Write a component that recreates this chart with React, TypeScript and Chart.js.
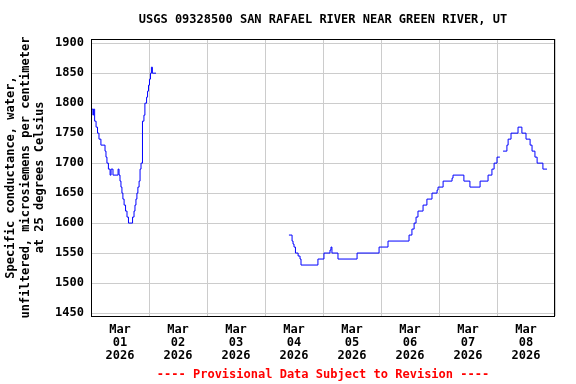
import React, { useEffect, useRef } from "react";
import { Chart, registerables } from "chart.js";

Chart.register(...registerables);

// Hours relative to 2026-03-01 00:00 (local)
const times: number[] = [
  -11.8, -11.2, -11.0, -10.5, -9.9, -9.3, -8.7, -7.9, -6.2, -5.8, -5.4, -4.8, -4.1, -3.7, -2.9, -0.8, -0.4,
  0.0, 0.4, 0.8, 1.2, 1.7, 2.3, 2.9, 3.5, 5.2, 5.8, 6.2, 6.6, 7.0, 7.4, 7.9, 8.3, 8.7, 9.3, 9.9, 10.3, 11.0,
  11.4, 11.8, 12.2, 12.6, 13.0, 13.4, 14.9,
  40.0,
  69.9, 71.2, 71.6, 72.0, 72.6, 73.7, 74.5, 74.9, 81.9, 84.4, 86.9, 87.3, 87.7, 90.2, 98.1, 107.2, 110.9,
  119.6, 120.8, 121.7, 122.5, 123.3, 125.4, 127.0, 129.1, 131.2, 131.6, 133.7, 137.4, 137.8, 142.3, 144.8,
  149.0, 152.3, 153.9, 154.8, 156.0, 157.2,
  157.8,
  158.5, 160.1, 160.6, 161.8, 164.7, 166.3, 168.0, 169.7, 170.5, 171.7, 172.6, 175.0, 176.7,
];

const conductance: (number | null)[] = [
  1790, 1780, 1790, 1770, 1760, 1750, 1740, 1730, 1720, 1710, 1700, 1690, 1680, 1690, 1680, 1690, 1680,
  1670, 1660, 1650, 1640, 1630, 1620, 1610, 1600, 1610, 1620, 1630, 1640, 1650, 1660, 1670, 1690, 1700,
  1770, 1780, 1800, 1810, 1820, 1830, 1840, 1850, 1860, 1850, 1850,
  null,
  1580, 1570, 1565, 1560, 1550, 1545, 1540, 1530, 1540, 1550, 1555, 1560, 1550, 1540, 1550, 1560, 1570,
  1580, 1590, 1600, 1610, 1620, 1630, 1640, 1650, 1655, 1660, 1670, 1675, 1680, 1670, 1660,
  1670, 1680, 1690, 1700, 1710, 1710,
  null,
  1720, 1730, 1740, 1750, 1760, 1750, 1740, 1730, 1720, 1710, 1700, 1690, 1690,
];

const tickHours: number[] = [0, 24, 48, 72, 96, 120, 144, 168];
const tickLabels: string[][] = [
  ["Mar", "01", "2026"],
  ["Mar", "02", "2026"],
  ["Mar", "03", "2026"],
  ["Mar", "04", "2026"],
  ["Mar", "05", "2026"],
  ["Mar", "06", "2026"],
  ["Mar", "07", "2026"],
  ["Mar", "08", "2026"],
];
const yTicks: number[] = [1450, 1500, 1550, 1600, 1650, 1700, 1750, 1800, 1850, 1900];

const titleText = "USGS 09328500 SAN RAFAEL RIVER NEAR GREEN RIVER, UT";
const footerText = "---- Provisional Data Subject to Revision ----";
const yTitle = [
  "Specific conductance, water,",
  "unfiltered, microsiemens per centimeter",
  "at 25 degrees Celsius",
];

const FONT = "'DejaVu Sans Mono', monospace";

const framePlugin = {
  id: "frameAndTexts",
  afterDraw(chart: any) {
    const { ctx, chartArea } = chart;
    const { left, right, top, bottom } = chartArea;
    ctx.save();
    ctx.strokeStyle = "#000000";
    ctx.lineWidth = 1;
    ctx.strokeRect(Math.round(left) + 0.5, Math.round(top) + 0.5, Math.round(right - left) - 1, Math.round(bottom - top));
    const cx = (left + right) / 2;
    ctx.font = `bold 12px ${FONT}`;
    ctx.textAlign = "center";
    ctx.textBaseline = "middle";
    ctx.fillStyle = "#000000";
    ctx.fillText(titleText, cx, 20);
    ctx.fillStyle = "#ff0000";
    ctx.fillText(footerText, cx, 375);
    ctx.restore();
  },
};

export default function App() {
  const ref = useRef<HTMLCanvasElement | null>(null);
  useEffect(() => {
    document.body.style.margin = "0";
    const canvas = ref.current;
    if (!canvas) return;
    const chart = new Chart(canvas, {
      type: "line",
      data: {
        datasets: [
          {
            data: times.map((t, i) => ({ x: t, y: conductance[i] })),
            borderColor: "#0000ff",
            borderWidth: 1,
            pointRadius: 0,
            stepped: true,
            spanGaps: false,
            fill: false,
          },
        ],
      },
      options: {
        animation: false,
        responsive: false,
        devicePixelRatio: 1,
        layout: { padding: { top: 39, right: 21, bottom: 0, left: 0 } },
        plugins: {
          legend: { display: false },
          tooltip: { enabled: false },
          title: { display: false },
        },
        scales: {
          x: {
            type: "linear",
            min: -12,
            max: 180,
            afterFit: (scale: any) => {
              scale.height = 68;
            },
            afterBuildTicks: (axis: any) => {
              const vals: number[] = [];
              for (let v = -12; v <= 180; v += 12) vals.push(v);
              axis.ticks = vals.map((v) => ({ value: v }));
            },
            border: { display: false },
            grid: {
              drawTicks: false,
              tickLength: 0,
              lineWidth: 1,
              color: (ctx: any) => {
                const v = ctx.tick ? ctx.tick.value : 0;
                return ((v % 24) + 24) % 24 === 12 ? "#cccccc" : "rgba(0,0,0,0)";
              },
            },
            ticks: {
              autoSkip: false,
              maxRotation: 0,
              minRotation: 0,
              padding: 7,
              color: "#000000",
              font: { family: FONT, size: 12, weight: "bold", lineHeight: 13 / 12 },
              callback: (value: any) => {
                const idx = tickHours.indexOf(Number(value));
                return idx >= 0 ? tickLabels[idx] : "";
              },
            },
          },
          y: {
            type: "linear",
            min: 1445,
            max: 1907,
            afterFit: (scale: any) => {
              scale.width = 91;
            },
            afterBuildTicks: (axis: any) => {
              axis.ticks = yTicks.map((v) => ({ value: v }));
            },
            border: { display: false },
            grid: {
              drawTicks: false,
              tickLength: 0,
              color: "#cccccc",
              lineWidth: 1,
            },
            ticks: {
              padding: 7,
              color: "#000000",
              font: { family: FONT, size: 12, weight: "bold" },
              callback: (value: any) => String(value),
            },
            title: {
              display: true,
              text: yTitle,
              color: "#000000",
              font: { family: FONT, size: 12, weight: "bold", lineHeight: 14.5 / 12 },
              padding: { top: 4, bottom: 0 },
            },
          },
        },
      },
      plugins: [framePlugin],
    });
    return () => chart.destroy();
  }, []);
  return <canvas ref={ref} width={576} height={384} style={{ display: "block" }} />;
}
